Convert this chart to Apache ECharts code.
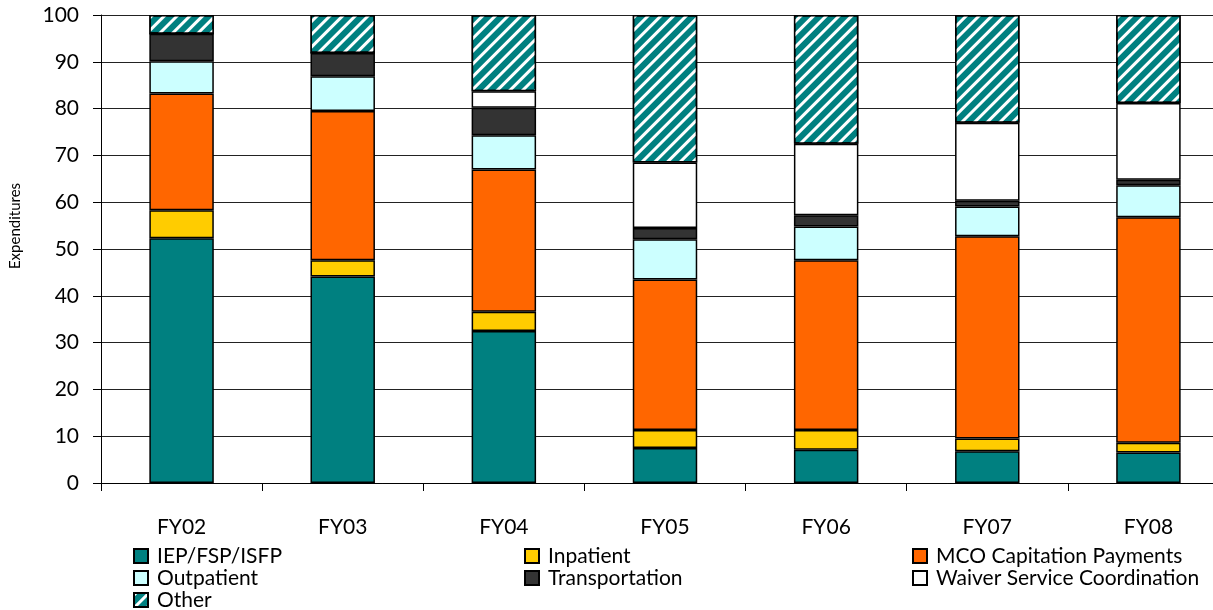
<!DOCTYPE html>
<html>
<head>
<meta charset="utf-8">
<script src="https://cdn.jsdelivr.net/npm/echarts@6/dist/echarts.min.js"></script>
<style>
html,body{margin:0;padding:0;background:#fff;overflow:hidden;}
#chart{width:1229px;height:620px;}
</style>
</head>
<body>
<div id="chart"></div>
<script>
const categories = ['FY02','FY03','FY04','FY05','FY06','FY07','FY08'];
const iep        = [52.3, 44.1, 32.5,  7.5,  7.1,  6.8,  6.5];
const inpatient  = [ 6.0,  3.5,  4.1,  3.8,  4.2,  2.7,  2.1];
const mco        = [24.9, 31.9, 30.4, 32.2, 36.3, 43.2, 48.2];
const outpatient = [ 6.9,  7.4,  7.3,  8.6,  7.2,  6.4,  6.8];
const transport  = [ 5.9,  5.0,  5.9,  2.4,  2.4,  1.2,  1.2];
const waiver     = [ 0.0,  0.0,  3.5, 14.0, 15.3, 16.7, 16.4];
const other      = [ 4.0,  8.1, 16.3, 31.5, 27.5, 23.0, 18.8];
const yTicks = [0,10,20,30,40,50,60,70,80,90,100];

const FONT = 'Lato';
const chart = echarts.init(document.getElementById('chart'), null, {renderer:'canvas'});

function mk(name, data, color, extra) {
  return {
    name: name, type: 'bar', stack: 'total', data: data, barWidth: '40%',
    itemStyle: Object.assign({color: color, borderColor: '#000', borderWidth: 1.5}, extra || {}),
    emphasis: {disabled: true}
  };
}

const legendText = {fontFamily: FONT, fontSize: 21, color: '#000', lineHeight: 22, padding: [0,0,0,4]};
function lg(left, top, data) {
  return {
    left: left, top: top, orient: 'vertical', data: data,
    itemWidth: 14, itemHeight: 14, itemGap: 0, padding: 0,
    textStyle: legendText, icon: 'rect', selectedMode: false
  };
}

chart.setOption({
  animation: false,
  backgroundColor: '#fff',
  grid: {left: 100, right: 0, top: 15, bottom: 137, containLabel: false},
  legend: [
    lg(133, 545, ['IEP/FSP/ISFP','Outpatient']),
    lg(133, 589, ['Other']),
    lg(524, 545, ['Inpatient','Transportation']),
    lg(912, 545, ['MCO Capitation Payments','Waiver Service Coordination'])
  ],
  xAxis: {
    type: 'category', data: categories,
    axisLine: {show: true, lineStyle: {color: '#000', width: 1}},
    axisTick: {show: true, alignWithLabel: false, length: 8, lineStyle: {color: '#000'}},
    axisLabel: {fontFamily: FONT, fontSize: 21, color: '#000', margin: 34}
  },
  yAxis: {
    type: 'value', min: 0, max: 100, interval: 10,
    name: 'Expenditures', nameLocation: 'middle', nameGap: 78,
    nameTextStyle: {fontFamily: FONT, fontSize: 15, color: '#000', padding: [0,0,0,46]},
    axisLine: {show: true, lineStyle: {color: '#000', width: 1}},
    axisTick: {show: true, length: 8, lineStyle: {color: '#000'}},
    axisLabel: {fontFamily: FONT, fontSize: 21, color: '#000', margin: 22,
      formatter: v => yTicks.includes(v) ? String(v) : ''},
    splitLine: {show: true, lineStyle: {color: '#222', width: 1}}
  },
  series: [
    mk('IEP/FSP/ISFP', iep, '#008080'),
    mk('Inpatient', inpatient, '#FFCC00'),
    mk('MCO Capitation Payments', mco, '#FF6600'),
    mk('Outpatient', outpatient, '#CCFFFF'),
    mk('Transportation', transport, '#333333'),
    mk('Waiver Service Coordination', waiver, '#FFFFFF'),
    mk('Other', other, '#008080', {decal: {
      symbol: 'rect', symbolSize: 1, color: '#FFFFFF',
      dashArrayX: [1, 0], dashArrayY: [2.5, 5.5], rotation: -Math.PI / 4
    }})
  ]
});
</script>
</body>
</html>
